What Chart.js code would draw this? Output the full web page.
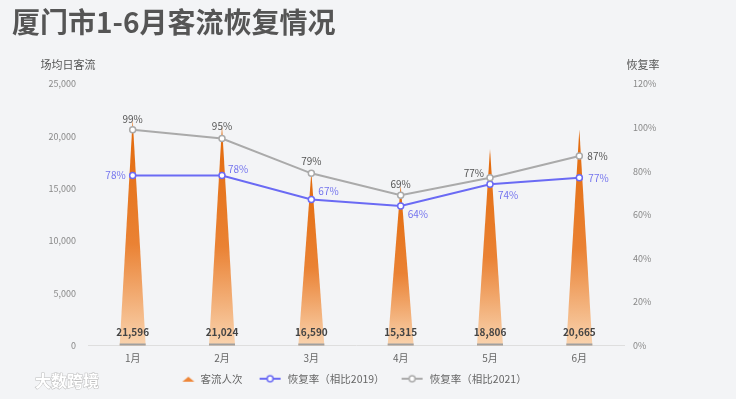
<!DOCTYPE html>
<html>
<head>
<meta charset="utf-8">
<script src="https://cdn.jsdelivr.net/npm/chart.js@4.4.0/dist/chart.umd.min.js"></script>
<style>
  html, body { margin: 0; padding: 0; background: #f3f4f6; }
  #wrap { width: 736px; height: 399px; position: relative; }
</style>
</head>
<body>
<div id="wrap"><canvas id="chart"></canvas></div>
<script>
// data
const months = ['1月', '2月', '3月', '4月', '5月', '6月'];
const visitors = [21596, 21024, 16590, 15315, 18806, 20665];
const rate2019 = [78, 78, 67, 64, 74, 77];
const rate2021 = [99, 95, 79, 69, 77, 87];
const seriesNames = ['客流人次', '恢复率（相比2019）', '恢复率（相比2021）'];

const FONT = '"Noto Sans CJK SC", "Noto Sans", sans-serif';
const BLUE = '#6a6af4';
const GRAY = '#aaaaaa';

// label placement for each point: [dx, dy, align]
const pos2019 = [[-7, 0, 'right'], [6, -6, 'left'], [7, -8, 'left'], [7, 8, 'left'], [8, 11, 'left'], [9, 0, 'left']];
const pos2021 = [[0, -11, 'center'], [0, -12, 'center'], [0, -12, 'center'], [0, -11, 'center'], [-6, -5, 'right'], [8, 0, 'left']];

// legend icons, drawn at the right end of a wider box so items get some space between them
function legendIcon(kind, color) {
    const c = document.createElement('canvas');
    c.width = 38; c.height = 10;
    const g = c.getContext('2d');
    if (kind == 'tri') {
        g.fillStyle = color;
        g.beginPath();
        g.moveTo(25, 8); g.lineTo(31, 3); g.lineTo(37, 8);
        g.closePath(); g.fill();
    } else {
        g.strokeStyle = color; g.lineWidth = 2;
        g.beginPath(); g.moveTo(15, 5); g.lineTo(36, 5); g.stroke();
        g.fillStyle = '#fff'; g.lineWidth = 1.5;
        g.beginPath(); g.arc(25.5, 5, 3, 0, Math.PI * 2); g.fill(); g.stroke();
    }
    return c;
}
const icons = [legendIcon('tri', '#ee8638'), legendIcon('line', BLUE), legendIcon('line', GRAY)];

// draws the spikes from the (hidden) bar elements, plus titles and labels
const decor = {
    id: 'decor',
    beforeDatasetsDraw(chart) {
        const ctx = chart.ctx;
        const meta = chart.getDatasetMeta(0);
        meta.data.forEach((bar, i) => {
            const half = bar.width / 2;
            const grad = ctx.createLinearGradient(0, bar.y, 0, bar.base);
            grad.addColorStop(0, '#e2690a');
            grad.addColorStop(0.55, '#ea8234');
            grad.addColorStop(1, '#f9d3ae');
            ctx.save();
            ctx.fillStyle = grad;
            ctx.beginPath();
            ctx.moveTo(bar.x - half, bar.base);
            ctx.lineTo(bar.x, bar.y);
            ctx.lineTo(bar.x + half, bar.base);
            ctx.closePath();
            ctx.fill();
            ctx.fillStyle = '#a0a0a0';
            ctx.fillRect(bar.x - half, bar.base - 2, bar.width, 2);
            ctx.font = 'bold 10px ' + FONT;
            ctx.fillStyle = '#444';
            ctx.textAlign = 'center';
            ctx.textBaseline = 'middle';
            ctx.fillText(visitors[i].toLocaleString('en-US'), bar.x, bar.base - 13);
            ctx.restore();
        });
    },
    afterDatasetsDraw(chart) {
        const ctx = chart.ctx;
        ctx.save();
        ctx.font = '10px ' + FONT;
        ctx.textBaseline = 'middle';
        [[1, rate2019, pos2019, '#7474ee'], [2, rate2021, pos2021, '#555']].forEach(([idx, vals, pos, col]) => {
            chart.getDatasetMeta(idx).data.forEach((pt, i) => {
                ctx.fillStyle = col;
                ctx.textAlign = pos[i][2];
                ctx.fillText(vals[i] + '%', pt.x + pos[i][0], pt.y + pos[i][1]);
            });
        });
        ctx.restore();
    },
    afterDraw(chart) {
        const ctx = chart.ctx;
        ctx.save();
        ctx.fillStyle = '#555';
        ctx.font = 'bold 28px ' + FONT;
        ctx.textBaseline = 'middle';
        ctx.textAlign = 'left';
        ctx.fillText('厦门市1-6月客流恢复情况', 12, 22);

        ctx.font = '11px ' + FONT;
        ctx.textAlign = 'center';
        ctx.fillText('场均日客流', 68, 65);
        ctx.fillText('恢复率', 643, 65);

        // watermark
        ctx.font = 'bold 16px ' + FONT;
        ctx.textAlign = 'left';
        ctx.lineWidth = 1;
        ctx.strokeStyle = '#bdbdbd';
        ctx.fillStyle = '#ffffff';
        ctx.strokeText('大数跨境', 35, 381);
        ctx.fillText('大数跨境', 35, 381);
        ctx.restore();
    }
};

const ctx = document.getElementById('chart').getContext('2d');
const chart = new Chart(ctx, {
    type: 'bar',
    data: {
        labels: months,
        datasets: [
            {
                type: 'bar',
                label: seriesNames[0],
                data: visitors,
                yAxisID: 'y',
                backgroundColor: 'rgba(0,0,0,0)',
                barThickness: 26,
                order: 3
            },
            {
                type: 'line',
                label: seriesNames[1],
                data: rate2019,
                yAxisID: 'y1',
                borderColor: BLUE,
                borderWidth: 2,
                pointRadius: 3,
                pointBorderWidth: 1.5,
                pointBackgroundColor: '#fff',
                pointBorderColor: BLUE,
                tension: 0,
                order: 2
            },
            {
                type: 'line',
                label: seriesNames[2],
                data: rate2021,
                yAxisID: 'y1',
                borderColor: GRAY,
                borderWidth: 2,
                pointRadius: 3,
                pointBorderWidth: 1.5,
                pointBackgroundColor: '#fff',
                pointBorderColor: GRAY,
                tension: 0,
                order: 1
            }
        ]
    },
    options: {
        responsive: true,
        maintainAspectRatio: false,
        animation: false,
        layout: { padding: { top: 84, right: 52, left: 0, bottom: 5 } },
        plugins: {
            title: { display: false },
            tooltip: { enabled: false },
            legend: {
                position: 'bottom',
                labels: {
                    usePointStyle: true,
                    pointStyleWidth: 38,
                    color: '#666',
                    font: { family: FONT, size: 10.5 },
                    padding: 2,
                    generateLabels() {
                        return seriesNames.map((n, i) => ({
                            text: n,
                            pointStyle: icons[i],
                            fontColor: '#666',
                            lineWidth: 0,
                            datasetIndex: i
                        }));
                    }
                }
            }
        },
        scales: {
            x: {
                grid: { display: false, drawTicks: false },
                border: { color: '#dedede' },
                ticks: { color: '#666', font: { family: FONT, size: 10 }, padding: 7 }
            },
            y: {
                position: 'left',
                min: 0,
                max: 25000,
                grid: { display: false, drawTicks: false },
                border: { display: false },
                ticks: {
                    stepSize: 5000,
                    color: '#888',
                    padding: 12,
                    font: { family: FONT, size: 9 },
                    callback: v => v.toLocaleString('en-US')
                },
                afterFit(scale) { scale.width = 88; }
            },
            y1: {
                position: 'right',
                min: 0,
                max: 120,
                grid: { display: false, drawTicks: false },
                border: { display: false },
                ticks: {
                    stepSize: 20,
                    color: '#888',
                    padding: 9,
                    font: { family: FONT, size: 9 },
                    callback: v => v + '%'
                },
                afterFit(scale) { scale.width = 60; }
            }
        }
    },
    plugins: [decor]
});
</script>
</body>
</html>
